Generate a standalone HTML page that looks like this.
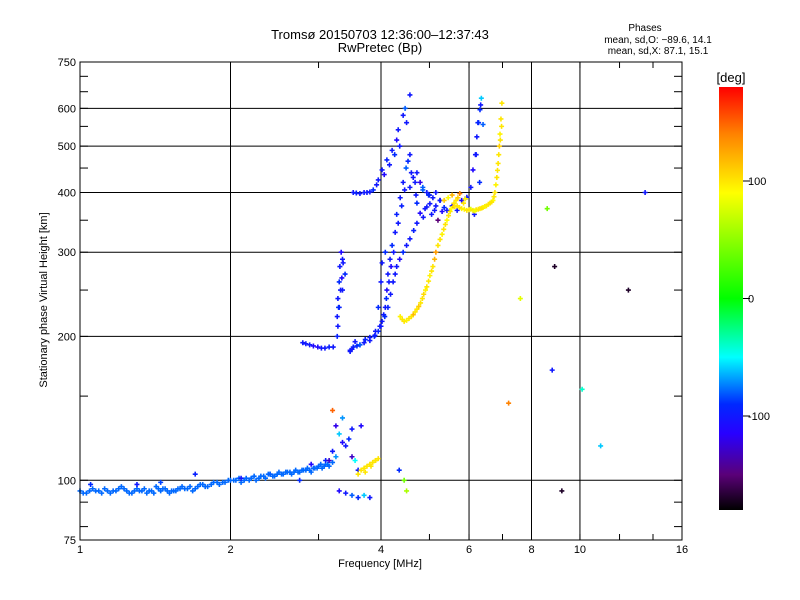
<!DOCTYPE html>
<html><head><meta charset="utf-8"><style>
body{margin:0;background:#fff;}
svg{display:block;font-family:"Liberation Sans",sans-serif;}
</style></head><body>
<svg id="chart" width="800" height="600" viewBox="0 0 800 600" xmlns="http://www.w3.org/2000/svg">
<rect width="800" height="600" fill="#fff"/>
<text x="380" y="39" font-size="13" text-anchor="middle">Tromsø 20150703 12:36:00–12:37:43</text>
<text x="380" y="52" font-size="13" text-anchor="middle">RwPretec (Bp)</text>
<g font-size="10" text-anchor="middle">
<text x="645" y="31">Phases</text>
<text x="658" y="43">mean, sd,O: −89.6, 14.1</text>
<text x="658" y="54">mean, sd,X:  87.1, 15.1</text>
</g>
<g id="grid"></g>
<g id="marks"></g>
<rect x="80" y="62" width="602" height="478" fill="none" stroke="#000" stroke-width="1"/>
<g id="axes"></g>
<text x="380" y="567" font-size="11" text-anchor="middle">Frequency [MHz]</text>
<text x="47" y="300" font-size="11" text-anchor="middle" transform="rotate(-90 47 300)">Stationary phase Virtual Height [km]</text>
<defs><linearGradient id="cb" x1="0" y1="1" x2="0" y2="0"></linearGradient></defs>
<rect x="719" y="87" width="24" height="423" fill="url(#cb)"/>
<text x="731" y="82" font-size="13" text-anchor="middle">[deg]</text>
<g id="cbticks"></g>
</svg>
<script>
// ---- data ----
const eFreq=[1.00,1.03,1.06,1.09,1.12,1.15,1.18,1.21,1.24,1.27,1.30,1.33,1.36,1.39,1.42,1.45,1.48,1.51,1.54,1.57,1.60,1.64,1.68,1.72,1.76,1.80,1.85,1.90,1.95,2.00,2.05,2.10,2.15,2.20,2.25,2.30,2.35,2.40,2.45,2.50,2.55,2.60,2.65,2.70,2.75,2.80,2.85,2.90,2.95,3.00,3.05,3.10,3.15,3.20,1.015,1.045,1.075,1.105,1.135,1.165,1.195,1.225,1.255,1.285,1.315,1.345,1.375,1.405,1.435,1.465,1.495,1.525,1.555,1.585,1.62,1.66,1.70,1.74,1.78,1.83,1.88,1.93,1.98,2.03,2.08,2.13,2.18,2.23,2.28,2.33,2.38,2.43,2.48,2.53,2.58,2.63,2.68,2.73,2.78,2.83,2.88,2.93,2.98,3.03,3.08,3.13];
const eHeight=[95,94,96,95,96,94,95,97,95,94,96,95,94,95,97,95,96,94,95,96,97,96,95,97,98,97,99,98,99,100,100,99,101,101,100,102,101,103,102,104,103,104,103,105,104,105,106,104,106,107,106,108,107,109,94,95,95,94,95,95,96,96,94,95,95,96,95,94,96,96,95,95,95,96,96,97,96,98,97,98,99,99,100,100,101,100,100,102,101,102,103,102,103,103,104,104,104,104,105,105,105,106,106,108,107,108];
const eScatFreq=[1.05,1.3,1.45,1.7,2.1,2.4,2.75,2.9,3.1,3.2,3.25,3.3,3.35,3.4,3.45,3.5,3.55,3.6,3.3,3.4,3.5,3.6,3.7,3.8,3.2,3.35,3.5,3.65,4.35,4.45,4.5,3.15,3.25];
const eScatHeight=[98,98,99,103,101,103,100,108,110,115,130,125,120,118,122,112,110,105,95,94,93,92,93,92,140,135,128,130,105,100,95,110,112];
const eScatPhase=[-90,-100,-85,-95,-100,-80,-90,-110,-95,-100,-120,-60,-110,-100,-90,-130,-50,-100,-110,-100,-80,-90,-60,-100,150,-70,-100,-110,-90,40,60,-130,-70];
const xFreqE=[3.6,3.65,3.7,3.75,3.8,3.85,3.9,3.95,3.72,3.82,3.9];
const xHeightE=[103,105,106,107,108,109,110,111,104,107,110];
const oFreq=[2.79,2.88,2.99,3.09,3.21,3.27,3.27,3.28,3.30,3.31,3.33,3.35,3.39,3.35,3.30,3.47,3.52,3.63,3.80,3.95,4.02,4.08,4.11,4.13,4.17,4.21,4.27,4.30,4.37,4.43,4.49,4.57,3.52,3.57,3.63,3.70,3.80,3.86,3.95,4.02,4.11,4.21,4.30,4.33,4.43,4.47,4.57,3.89,3.95,4.00,4.02,4.08,3.47,3.63,3.80,4.00,4.13,4.23,4.30,4.43,4.57,4.72,4.79,4.94,5.01,5.25,5.42,5.68,5.94,6.11,6.22,6.31,6.35,4.64,4.72,4.79,4.94,5.08,5.25,4.57,4.72,4.90,5.05,5.20,4.70,4.85,5.15,6.20,6.25,6.30,6.15,
2.83,2.93,3.04,3.15,3.28,3.29,3.32,3.34,3.36,3.50,3.58,3.70,3.88,3.98,4.05,4.10,4.15,4.19,4.24,4.33,4.40,4.46,4.53,3.75,3.92,4.06,4.16,4.26,4.36,4.50,3.55,3.72,3.90,4.07,4.18,4.27,4.36,4.50,4.65,4.86,5.12,5.35,5.55,5.80,6.05,6.18,6.27,6.33,4.60,4.85,5.00,5.15,5.30,4.68,4.98];
const oHeight=[194,192,190,189,190,200,220,240,260,280,300,290,270,250,230,187,190,192,196,205,215,230,250,270,290,310,330,360,390,420,450,480,400,399,398,400,401,405,425,446,468,490,515,541,580,600,640,201,230,260,285,300,186,192,199,210,230,260,280,300,320,345,362,373,379,385,367,367,391,446,523,596,630,430,440,420,400,390,385,410,380,370,360,350,395,405,400,480,560,420,360,
193,191,189,190,210,230,250,265,285,188,191,194,200,210,222,240,260,280,300,345,375,405,465,400,415,436,457,480,500,560,195,197,205,220,245,270,290,310,333,355,367,372,375,385,410,480,560,610,440,410,395,375,365,420,395];
const oPhase=[-100,-100,-110,-100,-100,-95,-100,-100,-90,-100,-110,-100,-90,-100,-100,-100,-95,-100,-100,-90,-100,-100,-110,-100,-100,-90,-100,-95,-100,-100,-80,-100,-100,-95,-100,-100,-100,-90,-100,-100,-95,-100,-110,-100,-100,-80,-100,-100,-90,-100,-100,-90,-100,-80,-100,-100,-95,-100,-100,-90,-100,-100,-110,-100,-100,-90,-100,-100,-100,-110,-100,-90,-60,-100,-100,-120,-100,-100,-100,-100,-90,-100,-100,-150,-100,-80,-100,-100,-100,-90,-100,
-100,-110,-100,-95,-100,-90,-100,-110,-100,-100,-90,-100,-95,-100,-100,-90,-100,-110,-100,-100,-95,-100,-90,-100,-100,-110,-100,-90,-100,-100,-100,-95,-100,-90,-100,-100,-110,-100,-95,-100,-100,-90,-100,-110,-100,-100,-90,-100,-100,-80,-100,-100,-110,-100,-90];
const xFreq=[4.37,4.45,4.55,4.64,4.72,4.80,4.87,4.94,5.01,5.08,5.15,5.25,5.34,5.42,5.50,5.57,5.68,5.80,5.94,6.05,6.11,6.20,6.31,6.40,6.50,6.61,6.70,6.76,6.82,6.86,6.90,6.92,6.95,6.98,5.45,5.55,5.65,5.75,5.85,5.35,
4.41,4.50,4.60,4.68,4.76,4.84,4.91,4.98,5.05,5.12,5.20,5.30,5.38,5.46,5.53,5.62,5.74,5.87,6.00,6.16,6.26,6.36,6.45,6.56,6.66,6.73,6.79,6.84,6.88,6.93,6.97,5.60,5.70,5.90];
const xHeight=[220,215,218,222,228,235,245,254,268,280,300,319,335,350,365,373,375,370,367,369,367,368,370,372,375,380,385,400,430,460,500,530,570,615,390,395,385,398,380,385,
217,216,220,225,231,240,250,261,274,290,310,327,343,358,370,374,372,369,368,366,369,371,374,378,382,392,415,445,480,515,550,380,390,388];
const xPhase=[95,100,100,120,100,100,105,100,95,100,130,100,100,90,100,130,100,95,100,80,100,100,100,95,100,100,90,100,100,100,110,95,100,100,90,120,100,140,100,110,
100,95,100,100,110,100,95,100,100,120,100,95,100,100,90,100,100,95,100,85,100,100,95,100,100,100,95,100,100,100,100,100,110,95];
const outFreq=[7.6,8.6,8.8,8.9,9.2,10.1,11.0,12.5,13.5,7.2,6.4];
const outHeight=[240,370,170,280,95,155,118,250,400,145,555];
const outPhase=[80,40,-100,-170,-170,-40,-60,-170,-100,140,-80];

// ---- scales ----
const X0=80,X1=682,Y0=540,Y1=62;
const xs=f=>X0+(X1-X0)*Math.log2(f)/4;
const ys=h=>Y0-(Y0-Y1)*Math.log10(h/75);
const stops=[[-180,[0,0,0]],[-150,[90,0,120]],[-115,[40,0,255]],[-90,[0,40,255]],[-50,[0,255,255]],[0,[0,255,0]],[90,[255,255,0]],[140,[255,130,0]],[180,[255,0,0]]];
function col(p){p=Math.max(-180,Math.min(180,p));for(let i=1;i<stops.length;i++){if(p<=stops[i][0]){const a=stops[i-1],b=stops[i],t=(p-a[0])/(b[0]-a[0]);return 'rgb('+a[1].map((v,k)=>Math.round(v+(b[1][k]-v)*t)).join(',')+')';}}return 'red';}
const NS='http://www.w3.org/2000/svg';
function el(t,a,p){const e=document.createElementNS(NS,t);for(const k in a)e.setAttribute(k,a[k]);p.appendChild(e);return e;}
const grid=document.getElementById('grid'),axes=document.getElementById('axes'),marks=document.getElementById('marks');
const xTicks=[1,2,4,6,8,10,16],xGrid=[2,4,6,8,10],yTicks=[75,100,200,300,400,500,600,750],yGrid=[100,200,300,400,500,600];
xGrid.forEach(v=>{const l=el('line',{x1:xs(v),x2:xs(v),y1:Y1,y2:Y0,stroke:'#000'},grid);});
yGrid.forEach(v=>{const l=el('line',{x1:X0,x2:X1,y1:ys(v),y2:ys(v),stroke:'#000'},grid);});
xTicks.forEach(v=>{const t=el('text',{x:xs(v),y:553,'font-size':11,'text-anchor':'middle'},axes);t.textContent=v;});
yTicks.forEach(v=>{const t=el('text',{x:76,y:ys(v)+4,'font-size':11,'text-anchor':'end'},axes);t.textContent=v;});
[3,5,7,12,14].concat(xTicks).forEach(v=>{el('line',{x1:xs(v),x2:xs(v),y1:Y0,y2:Y0-6,stroke:'#000'},axes);el('line',{x1:xs(v),x2:xs(v),y1:Y1,y2:Y1+6,stroke:'#000'},axes);});
[80,90,150,250,350,450,550,650,700].concat(yTicks).forEach(v=>{el('line',{x1:X0,x2:X0+8,y1:ys(v),y2:ys(v),stroke:'#000'},axes);el('line',{x1:X1,x2:X1-8,y1:ys(v),y2:ys(v),stroke:'#000'},axes);});
function plus(f,h,p,name){const x=xs(f),y=ys(h);const g=el('path',{d:`M${x-2.5} ${y}h5M${x} ${y-2.5}v5`,stroke:col(p),'stroke-width':1.6,fill:'none'},marks);}
eFreq.forEach((f,i)=>plus(f,eHeight[i],-78,'e-layer-point'));
eScatFreq.forEach((f,i)=>plus(f,eScatHeight[i],eScatPhase[i],'scatter-point'));
xFreqE.forEach((f,i)=>plus(f,xHeightE[i],100,'x-mode-e-point'));
oFreq.forEach((f,i)=>plus(f,oHeight[i],oPhase[i],'o-mode-point'));
xFreq.forEach((f,i)=>plus(f,xHeight[i],xPhase[i],'x-mode-point'));
outFreq.forEach((f,i)=>plus(f,outHeight[i],outPhase[i],'outlier-point'));
// colorbar
const cb=document.getElementById('cb');
stops.forEach(s=>el('stop',{offset:(s[0]+180)/360,'stop-color':col(s[0])},cb));
const cbLabels=[100,0,-100],cbt=document.getElementById('cbticks');
const cy=p=>510-(p+180)/360*423;
cbLabels.forEach(v=>{el('line',{x1:743,x2:750,y1:cy(v),y2:cy(v),stroke:'#000'},cbt);const t=el('text',{x:748,y:cy(v)+4,'font-size':11},cbt);t.textContent=v;});
</script>
</body></html>
